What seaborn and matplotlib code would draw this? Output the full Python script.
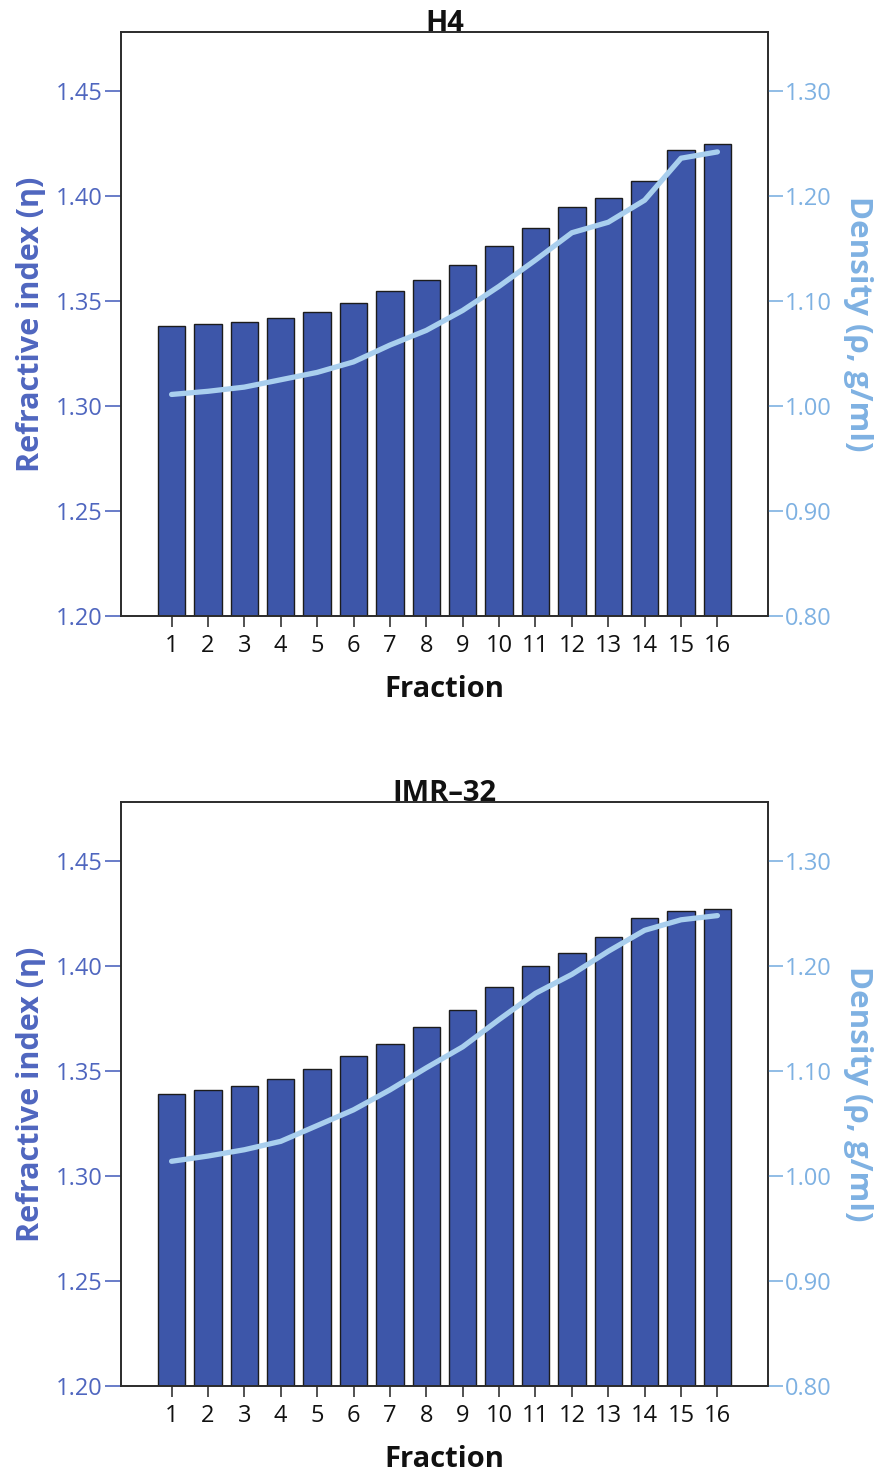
import numpy as np
import pandas as pd
import matplotlib
matplotlib.use("Agg")
import matplotlib.pyplot as plt
import seaborn as sns

# Fractions collected from the gradient
fractions = list(range(1, 17))

# H4 gradient: refractive index (bars) and density (line)
h4_refractive = [1.338, 1.339, 1.340, 1.342, 1.345, 1.349, 1.355, 1.360,
                 1.367, 1.376, 1.385, 1.395, 1.399, 1.407, 1.422, 1.425]
h4_density = [1.011, 1.014, 1.018, 1.025, 1.032, 1.042, 1.058, 1.072,
              1.091, 1.114, 1.139, 1.165, 1.175, 1.196, 1.236, 1.242]

# IMR-32 gradient
imr_refractive = [1.339, 1.341, 1.343, 1.346, 1.351, 1.357, 1.363, 1.371,
                  1.379, 1.390, 1.400, 1.406, 1.414, 1.423, 1.426, 1.427]
imr_density = [1.014, 1.019, 1.025, 1.033, 1.048, 1.063, 1.082, 1.103,
               1.123, 1.149, 1.174, 1.192, 1.214, 1.234, 1.244, 1.248]

panels = ["H4", "IMR\u201332"]
left_ticks = [1.20, 1.25, 1.30, 1.35, 1.40, 1.45]
right_ticks = [0.80, 0.90, 1.00, 1.10, 1.20, 1.30]

BAR = "#3d56a9"
LINE = "#a9cfee"
LEFT_TXT = "#4f66bf"
RIGHT_TXT = "#7eb1e2"
SPINE = "#2b2b2b"

sns.set_theme(style="white")
plt.rcParams["font.family"] = ["Open Sans", "DejaVu Sans"]

fig = plt.figure(figsize=(8.81, 14.74), dpi=100)
ax_w = 647 / 881
ax_h = 584 / 1474
ax_l = 121 / 881
bottoms = [1 - 616 / 1474, 1 - 1386 / 1474]

datasets = [(h4_refractive, h4_density), (imr_refractive, imr_density)]

for title, bottom, (refr, dens) in zip(panels, bottoms, datasets):
    ax = fig.add_axes([ax_l, bottom, ax_w, ax_h])
    df = pd.DataFrame({"Fraction": fractions, "Refractive": refr, "Density": dens})

    sns.barplot(data=df, x="Fraction", y="Refractive", native_scale=True,
                width=0.75, color=BAR, saturation=1, edgecolor="#1c1c1c",
                linewidth=1.0, ax=ax)
    ax.set_ylim(1.20, 1.20 + 584 / 2100)
    ax.set_xlim(1 - 1.39, 16 + 1.39)
    ax.set_xticks(fractions)
    ax.set_xticklabels([str(f) for f in fractions])
    ax.set_yticks(left_ticks)
    ax.set_yticklabels([f"{t:.2f}" for t in left_ticks])

    ax2 = ax.twinx()
    sns.lineplot(data=df, x="Fraction", y="Density", color=LINE,
                 linewidth=3.8, ax=ax2, solid_capstyle="round",
                 solid_joinstyle="round")
    ax2.set_ylim(0.80, 0.80 + 584 / 1050)
    ax2.set_yticks(right_ticks)
    ax2.set_yticklabels([f"{t:.2f}" for t in right_ticks])
    ax2.set_xlim(1 - 1.39, 16 + 1.39)

    for a in (ax, ax2):
        for s in a.spines.values():
            s.set_color(SPINE)
            s.set_linewidth(1.2)

    ax.tick_params(axis="y", which="both", left=True, length=11.5, width=1.2,
                   color=LEFT_TXT, labelcolor=LEFT_TXT, labelsize=17, pad=2)
    ax.tick_params(axis="x", bottom=True, length=8, width=1.2,
                   color="#333333", labelcolor="#111111", labelsize=17, pad=5)
    ax2.tick_params(axis="y", right=True, length=11, width=1.2,
                    color=RIGHT_TXT, labelcolor=RIGHT_TXT, labelsize=17, pad=1)

    ax.set_xlabel("Fraction", fontsize=21, fontweight="bold", color="#111111",
                  labelpad=12)
    ax.set_ylabel("Refractive index (\u03b7)", fontsize=22, fontweight="bold",
                  color=LEFT_TXT, labelpad=7)
    ax2.set_ylabel("Density (\u03c1, g/ml)", fontsize=22.5, fontweight="bold",
                   color=RIGHT_TXT, rotation=270, labelpad=30)
    ax2.set_title(title, fontsize=21, fontweight="bold", color="#111111",
                  y=1.0, pad=1, zorder=5)
    ax.grid(False)
    ax2.grid(False)

fig.savefig("out.png", dpi=100)
